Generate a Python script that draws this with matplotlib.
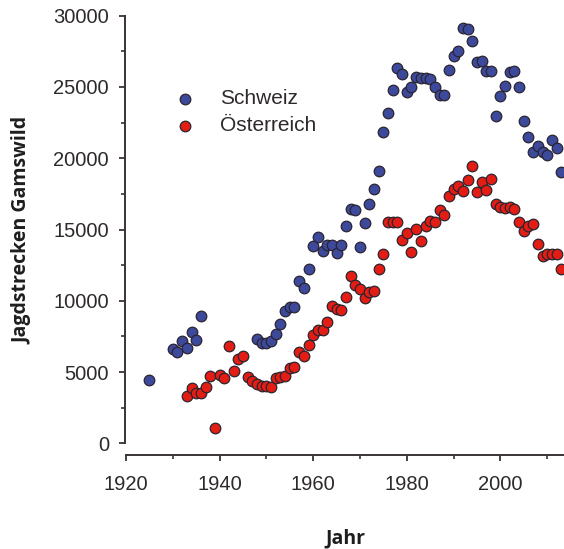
import matplotlib
matplotlib.use("Agg")
import matplotlib.pyplot as plt
from matplotlib.ticker import MultipleLocator

# ---------------- data ----------------
ch_years = [1925, 1930, 1931, 1932, 1933, 1934, 1935, 1936] + list(range(1948, 2014))
ch_values = [4470, 6600, 6420, 7180, 6700, 7830, 7220, 8900,
             7340, 7050, 7070, 7200, 7670, 8390, 9260, 9530, 9590, 11400,
             10920, 12240, 13810, 14460, 13470, 13880, 13880, 13320, 13880, 15250,
             16450, 16380, 13780, 15440, 16800, 17850, 19090, 21870, 23150, 24790,
             26300, 25910, 24620, 24970, 25670, 25630, 25630, 25560, 24970, 24440,
             24440, 26190, 27200, 27550, 29110, 29060, 28240, 26720, 26840, 26100,
             26100, 22940, 24390, 25090, 26030, 26100, 24970, 22640, 21470, 20420,
             20890, 20420, 20230, 21290, 20700, 19020]

at_years = list(range(1933, 2014))
at_values = [3320, 3880, 3550, 3500, 3920, 4750, 1060, 4770, 4600, 6820,
             5050, 5890, 6110, 4680, 4400, 4160, 4010, 4030, 3950, 4550,
             4680, 4750, 5250, 5350, 6380, 6130, 6870, 7600, 7980, 7980,
             8520, 9600, 9400, 9380, 10250, 11760, 11130, 10800, 10220, 10610,
             10680, 12240, 13300, 15510, 15510, 15510, 14230, 14740, 13410, 15050,
             14180, 15280, 15580, 15510, 16380, 16050, 17380, 17850, 18080, 17730,
             18480, 19490, 17620, 18320, 17780, 18550, 16800, 16560, 16520, 16610,
             16450, 15560, 14930, 15280, 15400, 13950, 13110, 13300, 13300, 13250,
             12240]

series_labels = ["Schweiz", "Österreich"]
x_ticks = [1920, 1940, 1960, 1980, 2000, 2020]
y_ticks = [0, 5000, 10000, 15000, 20000, 25000, 30000]
x_label = "Jahr"
y_label = "Jagdstrecken Gamswild"

# ---------------- style ----------------
W, H = 564, 549
fig = plt.figure(figsize=(W / 100, H / 100), dpi=100)
fig.patch.set_facecolor("white")

axis_col = "#3a3333"
text_col = "#2e2a2a"
blue = "#3d4a9c"
red = "#e41d14"
edge = "#2a2430"

xlim = (1919.8, 2016)
ylim = (-821, 30500)
px_per_year = 4.68
left_px = 126 - (1920 - xlim[0]) * px_per_year
width_px = (xlim[1] - xlim[0]) * px_per_year
bottom_px = 455
height_px = 446.4
ax = fig.add_axes([left_px / W, (H - bottom_px) / H, width_px / W, height_px / H])

ax.scatter(ch_years, ch_values, s=58, c=blue, edgecolors=edge, linewidths=0.9,
           zorder=3, clip_on=False, label=series_labels[0])
ax.scatter(at_years, at_values, s=58, c=red, edgecolors=edge, linewidths=0.9,
           zorder=3, clip_on=False, label=series_labels[1])

ax.set_xticks(x_ticks)
ax.set_yticks(y_ticks)
ax.xaxis.set_minor_locator(MultipleLocator(10))
ax.yaxis.set_minor_locator(MultipleLocator(2500))
ax.set_xlim(*xlim)
ax.set_ylim(*ylim)

for s in ["top", "right"]:
    ax.spines[s].set_visible(False)
ax.spines["left"].set_bounds(0, 30000)
ax.spines["bottom"].set_bounds(1920, 2016)
for s in ["left", "bottom"]:
    ax.spines[s].set_color(axis_col)
    ax.spines[s].set_linewidth(1.4)

ax.tick_params(which="major", direction="out", length=4.6, width=1.3, color=axis_col,
               labelsize=14.5, labelcolor=text_col)
ax.tick_params(which="minor", direction="out", length=3.0, width=1.2, color=axis_col)
ax.tick_params(axis="x", which="major", pad=9.5)
ax.tick_params(axis="y", which="major", pad=7)
for lab in ax.get_xticklabels() + ax.get_yticklabels():
    lab.set_fontfamily("Liberation Sans")

ax.set_xlabel(x_label, fontfamily="Open Sans", fontweight="bold", fontsize=14,
              color="#1e1e1e", va="center")
ax.xaxis.set_label_coords((345 - left_px) / width_px, (bottom_px - 538) / height_px)
ax.set_ylabel(y_label, fontfamily="Open Sans", fontweight="bold", fontsize=14,
              color="#1e1e1e", va="center")
ax.yaxis.set_label_coords((22 - left_px) / width_px, (bottom_px - 230) / height_px)

fs = 15
fs_px = fs * 100 / 72
leg_left = 185 - fs_px / 2
leg = ax.legend(loc="upper left",
                bbox_to_anchor=(leg_left / W, 1 - 89 / H),
                bbox_transform=fig.transFigure,
                frameon=False, borderpad=0, borderaxespad=0,
                handlelength=1.0, handletextpad=(220 - leg_left - fs_px) / fs_px,
                labelspacing=0.39, scatterpoints=1,
                prop={"family": "Liberation Sans", "size": fs})
for t in leg.get_texts():
    t.set_color(text_col)

fig.savefig("out.png", dpi=100, facecolor="white")
